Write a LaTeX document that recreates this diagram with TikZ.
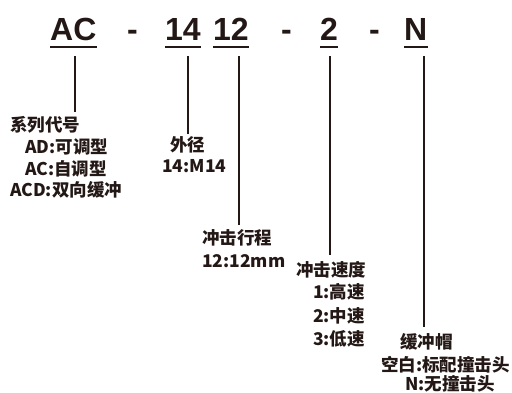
\documentclass[tikz,border=0pt]{standalone}
\usepackage{fontspec}
\newfontfamily\codefont{Liberation Sans}
\newfontfamily\cjk{Noto Sans CJK SC}
\definecolor{ink}{HTML}{231815}
\usetikzlibrary{positioning}

\begin{document}
\begin{tikzpicture}[x=1pt,y=-1pt,ink,
 code/.style={font=\codefont\bfseries\fontsize{32}{32}\selectfont,inner sep=0,anchor=base west},
 lbl/.style={font=\cjk\bfseries\fontsize{17.5}{17.5}\selectfont,inner sep=0,anchor=base west},
 rlbl/.style={lbl,anchor=base east},
 uline/.style={line width=2pt},
 lead/.style={line width=1.5pt}]
\useasboundingbox (0,0) rectangle (512,392);
% model code
\node[code] (ac) at (50,40) {AC};
\node[code] (dash1) at (127,40) {-};
\node[code] (d14) at (165,40) {14};
\node[code] (d12) at (213,40) {12};
\node[code] (dash2) at (281,40) {-};
\node[code] (d2) at (320,40) {2};
\node[code] (dash3) at (369,40) {-};
\node[code] (capn) at (404,40) {N};
\foreach \n in {ac,d14,d12,d2,capn}
  \draw[uline] ([yshift=-7pt]\n.base west) -- ([yshift=-7pt]\n.base east);

% explanations
\node[lbl] (series) at (10,131) {系列代号};
\node[lbl] (ad) at (25,153) {AD:可调型};
\node[lbl] (acs) at (25,175) {AC:自调型};
\node[lbl] (acd) at (10,196) {ACD:双向缓冲};
\node[lbl] (dia) at (170,151) {外径};
\node[lbl] (dia14) at (162,172) {14:M14};
\node[lbl] (stroke) at (202,244) {冲击行程};
\node[lbl] (stroke12) at (202,267) {12:12mm};
\node[lbl] (speed) at (296,276) {冲击速度};
\node[rlbl] (sp1) at (365,298) {1:高速};
\node[rlbl] (sp2) at (365,322) {2:中速};
\node[rlbl] (sp3) at (365,345) {3:低速};
\node[lbl] (bumper) at (400,348) {缓冲帽};
\node[rlbl] (bstd) at (510,371) {空白:标配撞击头};
\node[lbl] (bnone) at (405,390) {N:无撞击头};

% leads
\coordinate (pac) at (75,56);
\coordinate (p14) at (188,56);
\coordinate (p12) at (239,56);
\coordinate (p2) at (330,56);
\coordinate (pn) at (424,56);
\draw[lead] (pac) -- ([yshift=4pt]pac |- series.north);
\draw[lead] (p14) -- ([yshift=2pt]p14 |- dia.north);
\draw[lead] (p12) -- ([yshift=4pt]p12 |- stroke.north);
\draw[lead] (p2) -- ([yshift=6pt]p2 |- speed.north);
\draw[lead] (pn) -- ([yshift=6pt]pn |- bumper.north);
\end{tikzpicture}
\end{document}
